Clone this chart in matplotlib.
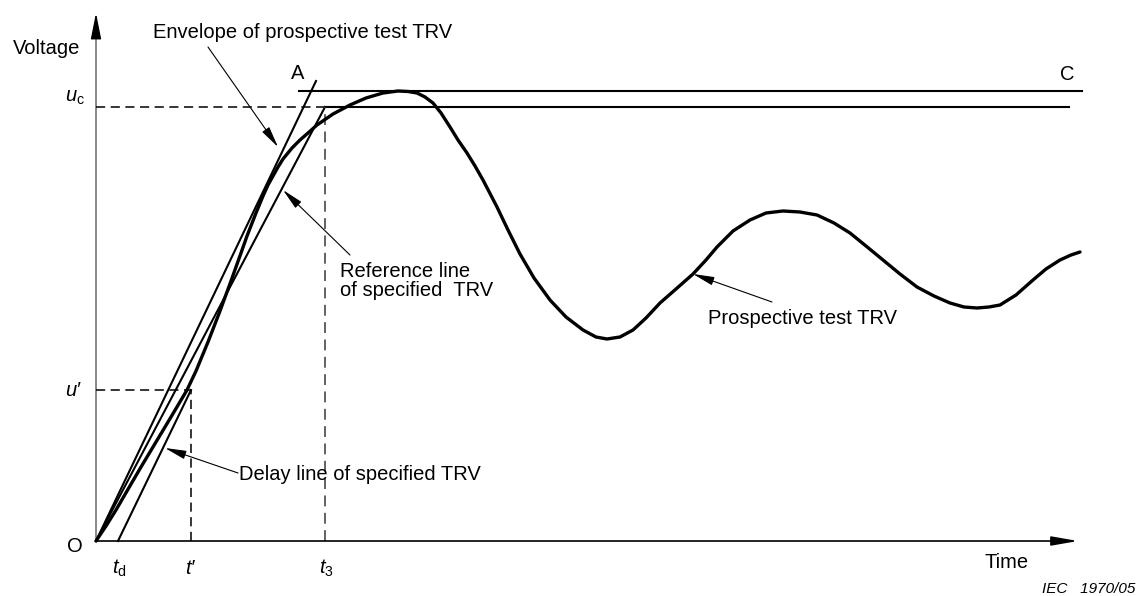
import numpy as np
import matplotlib.pyplot as plt

plt.rcParams['font.family'] = ['Liberation Sans', 'DejaVu Sans']
plt.rcParams['mathtext.fontset'] = 'custom'
plt.rcParams['mathtext.rm'] = 'Liberation Sans'
plt.rcParams['mathtext.it'] = 'Liberation Sans:italic'

# prospective test TRV (time, voltage in arbitrary units)
trv_t = [0, 10, 20, 31, 45, 60, 75, 91, 100, 112, 124, 135, 145, 151,
         160, 167, 172, 177, 182, 187, 196, 204, 212, 221, 237, 254, 270, 287,
         302, 312, 321, 329, 337, 345, 354, 362, 371, 379, 387, 401, 412, 424,
         438, 454, 470, 487, 500, 511, 524, 537, 550, 564, 580, 597, 610, 621,
         637, 654, 670, 687, 704, 721, 738, 754, 770, 787, 804, 821, 838, 854,
         868, 881, 893, 904, 920, 937, 950, 964, 975, 984]
trv_u = [0, 15, 31, 50, 74, 99, 124, 151, 170, 199, 230, 260, 288, 305,
         328, 345, 356, 365, 374, 382, 393, 401, 408, 416, 427, 436, 443, 448,
         450, 449.5, 448, 444, 438, 428, 414, 401, 388, 375, 361, 334, 311, 287,
         263, 241, 224, 211, 204, 202, 204, 211, 223, 238, 252, 267, 281, 294,
         310, 321, 328, 330, 329, 326, 318, 308, 295, 281, 267, 254, 245, 238,
         234, 233, 234, 236, 246, 261, 272, 281, 286, 289]

uc = 434        # u_c
u_top = 450     # upper line through C
u_p = 151       # u'
t3 = 229
td = 22
tp = 95         # t'
t_A, u_A = 220, 460
t_top_start, t_top_end = 203, 986
t_uc_end = 973
t_axis_end = 982
u_axis_end = 528

fig = plt.figure(figsize=(11.39, 5.96), dpi=100)
ax = fig.add_axes([0, 0, 1, 1])
ax.set_xlim(-96, 1043)
ax.set_ylim(-55, 541)
ax.axis('off')

lw = 1.5
dash = (0, (6, 3.6))

# axes with arrows
ax.plot([0, 0], [0, u_axis_end - 15], color='#808080', lw=1.3)
ax.annotate('', xy=(0, u_axis_end), xytext=(0, u_axis_end - 20),
            arrowprops=dict(arrowstyle='-|>,head_length=16,head_width=3.2', mutation_scale=1,
                            color='black', lw=1, shrinkA=0, shrinkB=0))
ax.annotate('', xy=(t_axis_end, 0), xytext=(0, 0),
            arrowprops=dict(arrowstyle='-|>,head_length=16,head_width=2.8', mutation_scale=1,
                            color='black', lw=1.2, shrinkA=0, shrinkB=0))

# straight construction lines
ax.plot([0, t_A], [0, u_A], color='black', lw=lw)
ax.plot([0, t3], [0, uc], color='black', lw=lw)
ax.plot([td, tp], [0, u_p], color='black', lw=lw)
ax.plot([t3, t_uc_end], [uc, uc], color='black', lw=lw)
ax.plot([t_top_start, t_top_end], [u_top, u_top], color='black', lw=lw)

# dashed guides
ax.plot([0, t3], [uc, uc], color='black', lw=1.1, linestyle=dash)
ax.plot([t3, t3], [0, uc], color='#555555', lw=1.3, linestyle=dash)
ax.plot([0, tp], [u_p, u_p], color='black', lw=1.1, linestyle=dash)
ax.plot([tp, tp], [0, u_p], color='black', lw=1.1, linestyle=dash)

# the TRV curve
ax.plot(trv_t, trv_u, color='black', lw=2.4, solid_joinstyle='round', solid_capstyle='round')

fs = 14.5
arrow_kw = dict(arrowstyle='-|>,head_length=13,head_width=2.6', mutation_scale=1,
                color='black', lw=0.8, shrinkA=0, shrinkB=0)

ax.annotate('', xy=(182, 394), xytext=(112, 494), arrowprops=arrow_kw)
ax.text(57, 509, 'Envelope of prospective test TRV', fontsize=fs, ha='left', va='center')

ax.annotate('', xy=(187, 351), xytext=(254, 286), arrowprops=arrow_kw)
ax.text(244, 260, 'Reference line\nof specified  TRV', fontsize=fs, ha='left', va='center',
        linespacing=1.05)

ax.annotate('', xy=(69, 93), xytext=(142, 68), arrowprops=arrow_kw)
ax.text(143, 66, 'Delay line of specified TRV', fontsize=fs, ha='left', va='center')

ax.annotate('', xy=(597, 267), xytext=(676, 239), arrowprops=arrow_kw)
ax.text(612, 223, 'Prospective test TRV', fontsize=fs, ha='left', va='center')

ax.text(201.5, 467.5, 'A', fontsize=fs, ha='center', va='center')
ax.text(971, 467, 'C', fontsize=fs, ha='center', va='center')
ax.text(-49, 493, 'Voltage', fontsize=fs, ha='center', va='center')
ax.text(911, -21, 'Time', fontsize=fs, ha='center', va='center')
ax.text(-11, 443, r'$u_{\mathrm{c}}$', fontsize=fs, ha='right', va='center')
ax.text(-16, 151, 'u\u2032', fontsize=fs, style='italic', ha='right', va='center')
ax.text(-13, -5, 'O', fontsize=fs, ha='right', va='center')
ax.text(23.5, -27, r'$t_{\mathrm{d}}$', fontsize=fs, ha='center', va='center')
ax.text(94, -27, 't\u2032', fontsize=fs, style='italic', ha='center', va='center')
ax.text(230, -27, r'$t_3$', fontsize=fs, ha='center', va='center')
ax.text(1039, -48, 'IEC   1970/05', fontsize=11, style='italic', ha='right', va='center')

fig.savefig('out.png', dpi=100)
